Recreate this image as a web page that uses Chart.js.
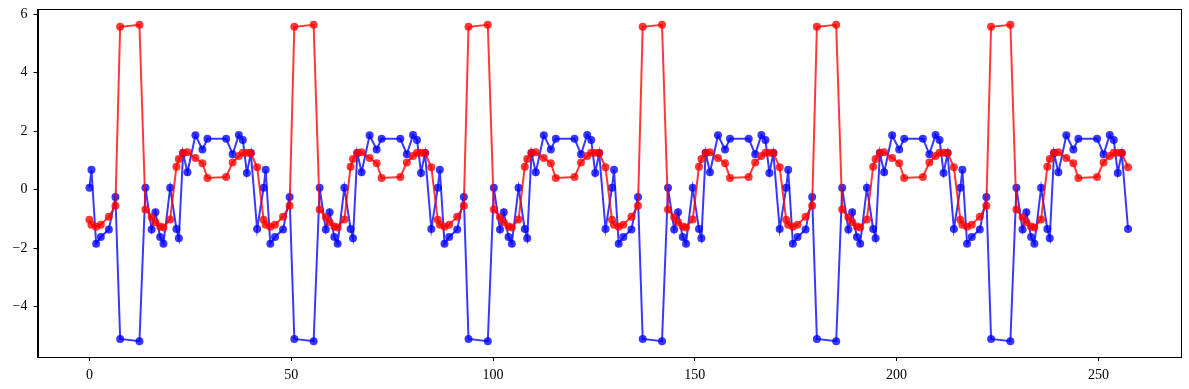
<!DOCTYPE html>
<html>
<head>
<meta charset="utf-8">
<script src="https://cdn.jsdelivr.net/npm/chart.js@4.4.0/dist/chart.umd.min.js"></script>
<style>
html,body{margin:0;padding:0;background:#fff}
#wrap{width:1189px;height:389px}
</style>
</head>
<body>
<div id="wrap"><canvas id="c" width="1189" height="389"></canvas></div>
<script>
// x positions, one row per repeat of the pattern
const xVals=[
  0,0.5,1.66,2.82,4.81,6.44,7.61,12.39,13.88,15.41,16.35,17.52,18.34,20.0,21.55,22.15,23.21,24.28,26.26,28.0,29.24,33.87,35.48,37.02,38.01,39.0,39.99,41.55,
  43.16,43.66,44.82,45.98,47.97,49.6,50.77,55.55,57.04,58.57,59.51,60.68,61.5,63.16,64.71,65.31,66.37,67.44,69.42,71.16,72.4,77.03,78.64,80.18,81.17,82.16,83.15,84.71,
  86.32,86.82,87.98,89.14,91.13,92.76,93.93,98.71,100.2,101.73,102.67,103.84,104.66,106.32,107.87,108.47,109.53,110.6,112.58,114.32,115.56,120.19,121.8,123.34,124.33,125.32,126.31,127.87,
  129.48,129.98,131.14,132.3,134.29,135.92,137.09,141.87,143.36,144.89,145.83,147.0,147.82,149.48,151.03,151.63,152.69,153.76,155.74,157.48,158.72,163.35,164.96,166.5,167.49,168.48,169.47,171.03,
  172.64,173.14,174.3,175.46,177.45,179.08,180.25,185.03,186.52,188.05,188.99,190.16,190.98,192.64,194.19,194.79,195.85,196.92,198.9,200.64,201.88,206.51,208.12,209.66,210.65,211.64,212.63,214.19,
  215.8,216.3,217.46,218.62,220.61,222.24,223.41,228.19,229.68,231.21,232.15,233.32,234.14,235.8,237.35,237.95,239.01,240.08,242.06,243.8,245.04,249.67,251.28,252.82,253.81,254.8,255.79,257.35
];
const blueVals=[
  0.06,0.68,-1.85,-1.62,-1.37,-0.25,-5.11,-5.19,0.06,-1.37,-0.78,-1.62,-1.85,0.06,-1.35,-1.67,1.25,0.59,1.86,1.37,1.74,1.74,1.21,1.87,1.70,0.57,1.25,-1.35,
  0.06,0.68,-1.85,-1.62,-1.37,-0.25,-5.11,-5.19,0.06,-1.37,-0.78,-1.62,-1.85,0.06,-1.35,-1.67,1.25,0.59,1.86,1.37,1.74,1.74,1.21,1.87,1.70,0.57,1.25,-1.35,
  0.06,0.68,-1.85,-1.62,-1.37,-0.25,-5.11,-5.19,0.06,-1.37,-0.78,-1.62,-1.85,0.06,-1.35,-1.67,1.25,0.59,1.86,1.37,1.74,1.74,1.21,1.87,1.70,0.57,1.25,-1.35,
  0.06,0.68,-1.85,-1.62,-1.37,-0.25,-5.11,-5.19,0.06,-1.37,-0.78,-1.62,-1.85,0.06,-1.35,-1.67,1.25,0.59,1.86,1.37,1.74,1.74,1.21,1.87,1.70,0.57,1.25,-1.35,
  0.06,0.68,-1.85,-1.62,-1.37,-0.25,-5.11,-5.19,0.06,-1.37,-0.78,-1.62,-1.85,0.06,-1.35,-1.67,1.25,0.59,1.86,1.37,1.74,1.74,1.21,1.87,1.70,0.57,1.25,-1.35,
  0.06,0.68,-1.85,-1.62,-1.37,-0.25,-5.11,-5.19,0.06,-1.37,-0.78,-1.62,-1.85,0.06,-1.35,-1.67,1.25,0.59,1.86,1.37,1.74,1.74,1.21,1.87,1.70,0.57,1.25,-1.35
];
const redVals=[
  -1.03,-1.20,-1.27,-1.20,-0.93,-0.55,5.57,5.64,-0.68,-0.95,-1.12,-1.26,-1.30,-1.02,0.78,1.05,1.26,1.28,1.08,0.90,0.40,0.43,0.93,1.15,1.26,1.26,1.25,0.76,
  -1.03,-1.20,-1.27,-1.20,-0.93,-0.55,5.57,5.64,-0.68,-0.95,-1.12,-1.26,-1.30,-1.02,0.78,1.05,1.26,1.28,1.08,0.90,0.40,0.43,0.93,1.15,1.26,1.26,1.25,0.76,
  -1.03,-1.20,-1.27,-1.20,-0.93,-0.55,5.57,5.64,-0.68,-0.95,-1.12,-1.26,-1.30,-1.02,0.78,1.05,1.26,1.28,1.08,0.90,0.40,0.43,0.93,1.15,1.26,1.26,1.25,0.76,
  -1.03,-1.20,-1.27,-1.20,-0.93,-0.55,5.57,5.64,-0.68,-0.95,-1.12,-1.26,-1.30,-1.02,0.78,1.05,1.26,1.28,1.08,0.90,0.40,0.43,0.93,1.15,1.26,1.26,1.25,0.76,
  -1.03,-1.20,-1.27,-1.20,-0.93,-0.55,5.57,5.64,-0.68,-0.95,-1.12,-1.26,-1.30,-1.02,0.78,1.05,1.26,1.28,1.08,0.90,0.40,0.43,0.93,1.15,1.26,1.26,1.25,0.76,
  -1.03,-1.20,-1.27,-1.20,-0.93,-0.55,5.57,5.64,-0.68,-0.95,-1.12,-1.26,-1.30,-1.02,0.78,1.05,1.26,1.28,1.08,0.90,0.40,0.43,0.93,1.15,1.26,1.26,1.25,0.76
];
const xTicks=[0,50,100,150,200,250];
const yTicks=[-4,-2,0,2,4,6];

const pts=vals=>vals.map((y,i)=>({x:xVals[i],y}));
const fmt=v=>v<0?'\u2212'+Math.abs(v):String(v);

// matplotlib-like closed frame
const framePlugin={
  id:'frame',
  afterDraw(chart){
    const a=chart.chartArea, ctx=chart.ctx;
    ctx.save();
    ctx.strokeStyle='#000';
    ctx.lineWidth=1;
    ctx.strokeRect(Math.round(a.left)+0.5,Math.round(a.top)+0.5,Math.round(a.right-a.left),Math.round(a.bottom-a.top));
    ctx.restore();
  }
};

Chart.defaults.font.family="'Liberation Serif', 'DejaVu Serif', serif";
Chart.defaults.font.size=14;
Chart.defaults.color='#000';

const series=(vals,col,order)=>({
  data:pts(vals),
  borderColor:col,
  backgroundColor:col,
  borderWidth:2,
  pointRadius:4,
  pointBorderWidth:0,
  pointBackgroundColor:col,
  tension:0,
  order
});

new Chart(document.getElementById('c'),{
  type:'line',
  data:{datasets:[
    series(blueVals,'rgba(0,0,255,0.78)',1),
    series(redVals,'rgba(255,0,0,0.78)',0)
  ]},
  options:{
    responsive:false,
    animation:false,
    devicePixelRatio:1,
    layout:{padding:{top:9,right:9,left:0,bottom:0}},
    plugins:{legend:{display:false},tooltip:{enabled:false}},
    scales:{
      x:{
        type:'linear',min:-12.87,max:270.22,
        afterBuildTicks:s=>{s.ticks=xTicks.map(v=>({value:v}));},
        afterFit:s=>{s.height=32;s.paddingLeft=0;s.paddingRight=0;},
        grid:{drawOnChartArea:false,drawTicks:true,tickLength:4,color:'#000'},
        border:{display:true,color:'#000',width:1},
        ticks:{padding:6,maxRotation:0,autoSkip:false,callback:v=>fmt(v)}
      },
      y:{
        min:-5.73,max:6.18,
        afterBuildTicks:s=>{s.ticks=yTicks.map(v=>({value:v}));},
        afterFit:s=>{s.width=37.5;s.paddingTop=0;s.paddingBottom=0;},
        grid:{drawOnChartArea:false,drawTicks:true,tickLength:4,color:'#000'},
        border:{display:true,color:'#000',width:1},
        ticks:{padding:6,autoSkip:false,callback:v=>fmt(v)}
      }
    }
  },
  plugins:[framePlugin]
});
</script>
</body>
</html>
